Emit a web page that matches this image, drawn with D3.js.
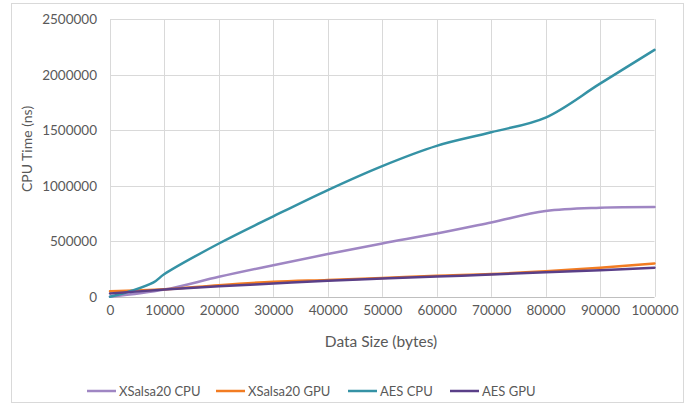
<!DOCTYPE html>
<html><head><meta charset="utf-8">
<script src="https://cdn.jsdelivr.net/npm/d3@7"></script>
<style>body{margin:0;background:#fff}svg{display:block}text{font-family:Lato,"Open Sans",sans-serif;fill:#595959}</style>
</head><body><svg id="c" width="697" height="406"></svg>
<script>
const xTicks = [0,10000,20000,30000,40000,50000,60000,70000,80000,90000,100000];
const yTicks = [0,500000,1000000,1500000,2000000,2500000];
const seriesNames = ["XSalsa20 CPU","XSalsa20 GPU","AES CPU","AES GPU"];
const seriesColors = ["#9f86c3","#f27c22","#3592a5","#5a3f88"];
const xsalsaCpuX = [0,10000,20000,30000,40000,50000,60000,70000,80000,90000,100000];
const xsalsaCpu  = [0,65000,180000,285000,385000,480000,570000,670000,772000,802000,808000];
const xsalsaGpuX = [0,10000,20000,30000,40000,50000,60000,70000,80000,90000,100000];
const xsalsaGpu  = [50000,68000,105000,135000,152000,170000,190000,205000,230000,262000,300000];
const aesCpuX = [0,4000,8000,10000,20000,30000,40000,50000,60000,70000,80000,90000,100000];
const aesCpu  = [0,55000,130000,205000,480000,725000,962000,1178000,1360000,1482000,1615000,1920000,2225000];
const aesGpuX = [0,10000,20000,30000,40000,50000,60000,70000,80000,90000,100000];
const aesGpu  = [30000,65000,95000,120000,145000,165000,183000,200000,222000,240000,262000];

const svg = d3.select("#c");
svg.append("rect").attr("x",11.5).attr("y",3.5).attr("width",672).attr("height",399)
  .attr("fill","#fff").attr("stroke","#d9d9d9");
const x = d3.scaleLinear().domain([0,100000]).range([110,654.5]);
const y = d3.scaleLinear().domain([0,2500000]).range([296.8,19.3]);

svg.append("g").selectAll("line").data(yTicks.slice(1)).join("line")
  .attr("x1",x(0)).attr("x2",x(100000)).attr("y1",d=>Math.round(y(d))+0.5).attr("y2",d=>Math.round(y(d))+0.5)
  .attr("stroke","#d9d9d9");
svg.append("g").selectAll("line").data(xTicks).join("line")
  .attr("y1",y(0)).attr("y2",y(2500000)).attr("x1",d=>Math.round(x(d))+0.5).attr("x2",d=>Math.round(x(d))+0.5)
  .attr("stroke","#d9d9d9");
svg.append("line").attr("x1",x(0)).attr("x2",x(100000)).attr("y1",Math.round(y(0))+0.5).attr("y2",Math.round(y(0))+0.5)
  .attr("stroke","#bfbfbf");

const xa = svg.append("g").attr("transform",`translate(0,${y(0)+6})`)
  .call(d3.axisBottom(x).tickValues(xTicks).tickSize(0).tickFormat(d3.format("d")));
xa.select(".domain").remove();
xa.selectAll("text").style("font-size","13.5px").attr("fill","#595959");
const ya = svg.append("g").attr("transform",`translate(${x(0)-6},0)`)
  .call(d3.axisLeft(y).tickValues(yTicks).tickSize(0).tickFormat(d3.format("d")));
ya.select(".domain").remove();
ya.selectAll("text").style("font-size","13.5px").attr("fill","#595959").attr("dx","-4");

svg.append("text").attr("x",381).attr("y",347).attr("text-anchor","middle")
  .style("font-size","15.5px").text("Data Size (bytes)");
svg.append("text").attr("transform",`translate(32,149) rotate(-90)`).attr("text-anchor","middle")
  .style("font-size","14px").text("CPU Time (ns)");

const data = [
  xsalsaCpuX.map((d,i)=>[d,xsalsaCpu[i]]),
  xsalsaGpuX.map((d,i)=>[d,xsalsaGpu[i]]),
  aesCpuX.map((d,i)=>[d,aesCpu[i]]),
  aesGpuX.map((d,i)=>[d,aesGpu[i]])
];
const line = d3.line().x(d=>x(d[0])).y(d=>y(d[1])).curve(d3.curveCatmullRom.alpha(0.5));
svg.append("g").selectAll("path").data(data).join("path")
  .attr("d",line).attr("fill","none").attr("stroke",(d,i)=>seriesColors[i])
  .attr("stroke-width",2.5).attr("stroke-linecap","round");

const legX = [87,216,348,450];
const lg = svg.append("g").selectAll("g").data(seriesNames).join("g")
  .attr("transform",(d,i)=>`translate(${legX[i]},391)`);
lg.append("line").attr("x1",0).attr("x2",29).attr("y1",0).attr("y2",0)
  .attr("stroke",(d,i)=>seriesColors[i]).attr("stroke-width",2.5);
lg.append("text").attr("x",32).attr("y",4.5).style("font-size","13px").text(d=>d);
</script></body></html>
